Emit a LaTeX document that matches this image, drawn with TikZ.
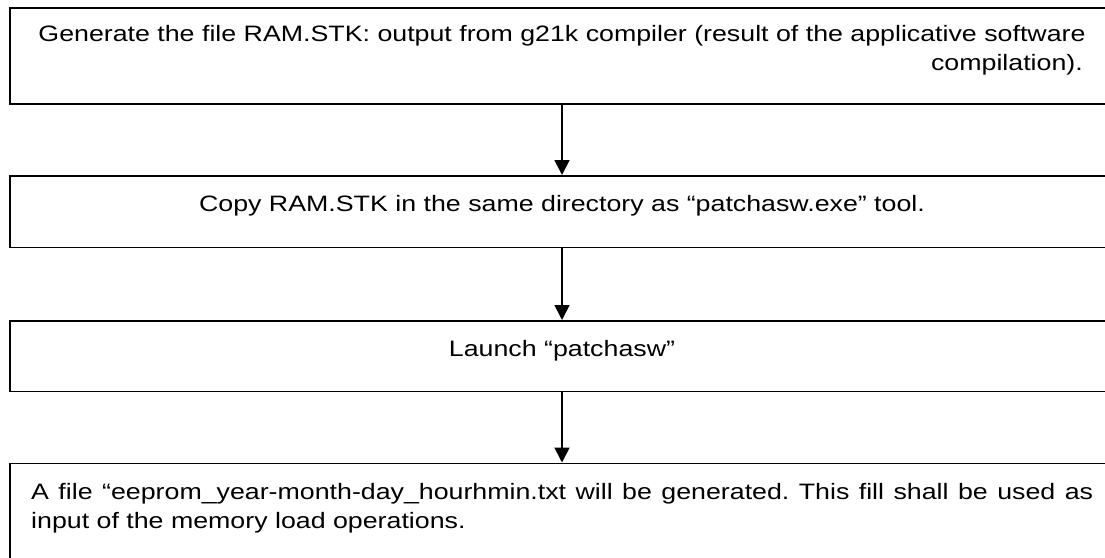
\documentclass[tikz,border=0pt]{standalone}
\usepackage{fontspec}
\setmainfont[FakeStretch=1.2]{Liberation Sans}
\usetikzlibrary{arrows.meta}
\frenchspacing
\begin{document}
\begin{tikzpicture}[x=1pt,y=-1pt,
  box/.style={draw=black,line width=1.7pt,minimum width=1104pt,inner sep=0pt,anchor=north},
  lbl/.style={font=\fontsize{22.3}{29}\selectfont,inner sep=0pt},
  arr/.style={line width=1.7pt,-{Triangle[width=15pt,length=15pt]}}]
\useasboundingbox (0,0) rectangle (1105,557);
\clip (0,0) rectangle (1105,557);
\node[box,minimum height=96pt] (b1) at (562,7) {};
\node[box,minimum height=71.5pt] (b2) at (562,175) {};
\node[box,minimum height=70.5pt] (b3) at (562,320) {};
\node[box,minimum height=110pt] (b4) at (562,462.5) {};
\node[lbl,anchor=base] (t1) at (562,41) {Generate the file RAM.STK: output from g21k compiler (result of the applicative software};
\node[lbl,anchor=base east] (t1b) at (1083,70.5) {compilation).};
\node[lbl,anchor=base] (t2) at (562,211.5) {Copy RAM.STK in the same directory as “patchasw.exe” tool.};
\node[lbl,anchor=base] (t3) at (562,356.5) {Launch “patchasw”};
\node[lbl,anchor=base west,text width=1062pt,align=justify] (t4) at (31,499) {A file “eeprom\_year-month-day\_hourhmin.txt will be generated. This fill shall be used as\linebreak input of the memory load operations.};
\draw[arr] (b1.south) -- (b2.north);
\draw[arr] (b2.south) -- (b3.north);
\draw[arr] (b3.south) -- (b4.north);
\end{tikzpicture}
\end{document}
